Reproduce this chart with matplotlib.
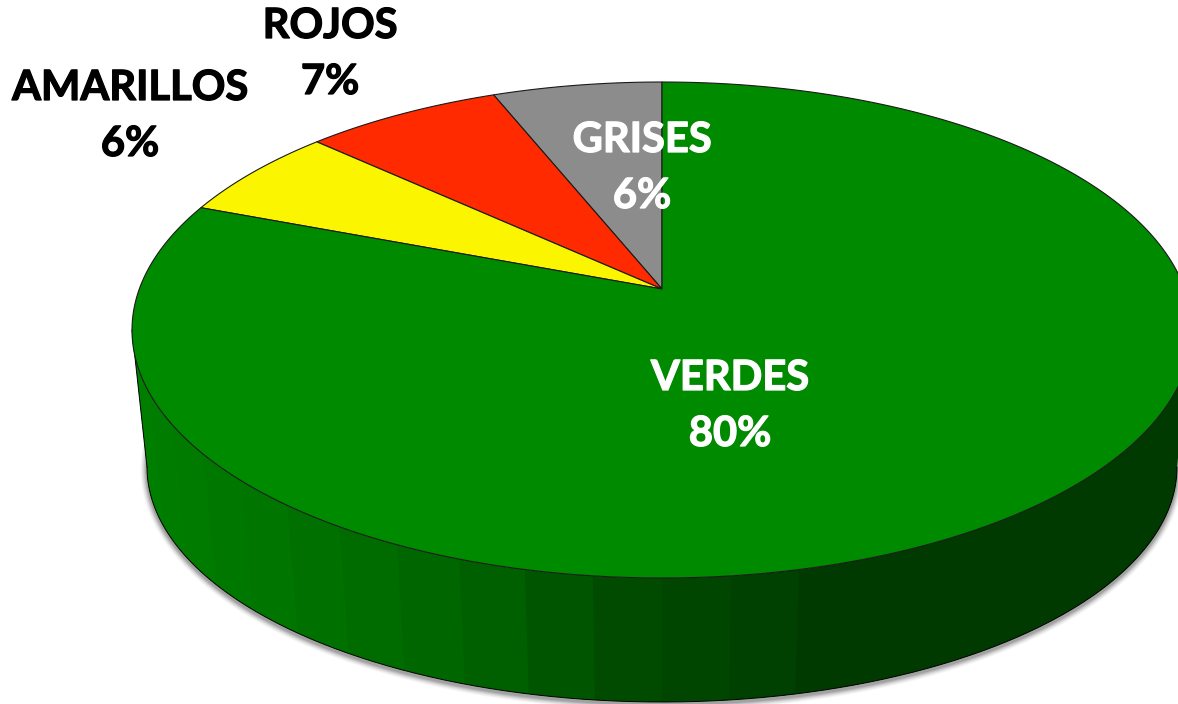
import numpy as np
import matplotlib
matplotlib.use("Agg")
import matplotlib.pyplot as plt
import matplotlib.patheffects as pe
from matplotlib.colors import to_rgb
from matplotlib.patches import Polygon

plt.rcParams['font.family'] = ['Lato', 'DejaVu Sans']

# datos (orden antihorario desde las 12)
categorias = ['GRISES', 'ROJOS', 'AMARILLOS', 'VERDES']
valores = [6, 7, 6, 80]
colores = ['#8c8c8c', '#ff2a00', '#fcf500', '#008a00']
color_texto = ['white', 'black', 'black', 'white']
pos_texto = [(642, 140), (330, 26), (130, 88), (730, 378)]

# geometria del disco en pixeles
CX, CY_APEX = 662, 289
K = 0.1653
A, B = 241.2, 522.7
TOP_E = (662, 330, 530, 248)
LOW_E = (662, 467, 515, 235)
ANCHO_FACETA = 7.5


def proyectar(theta):
    """Circulo unidad -> plano con perspectiva (theta en grados, 0 = derecha)."""
    t = np.radians(theta)
    u, v = np.cos(t), np.sin(t)
    w = 1 + K * v
    return CX + B * u / w, CY_APEX - A * v / w


def elipse(e, t):
    return e[0] + e[2] * np.cos(t), e[1] + e[3] * np.sin(t)


def color_pared(x):
    # luz desde la izquierda, plano oscuro a partir de x~830
    xs = [130, 300, 500, 620, 830]
    cs = [to_rgb(c) for c in ['#007f00', '#007200', '#005f00', '#004c00', '#003a00']]
    return [np.interp(x, xs, [c[i] for c in cs]) for i in range(3)]


fig = plt.figure(figsize=(11.78, 7.04), dpi=100)
ax = fig.add_axes([0, 0, 1, 1])
ax.set_xlim(0, 1178)
ax.set_ylim(704, 0)
ax.axis('off')

# sombra bajo el disco
ts = np.radians(np.linspace(-8, 190, 300))
sx, sy = elipse(LOW_E, ts)
for lw, a in zip([13, 11, 9, 7, 5, 3], [0.04, 0.06, 0.08, 0.11, 0.14, 0.18]):
    ax.plot(sx, sy + 2, color='#404040', lw=lw * 0.72, alpha=a, solid_capstyle='round', zorder=1)

# pared lateral por facetas, cada una solapa a la siguiente para no dejar costuras
bordes = np.radians(np.arange(0, 180 + ANCHO_FACETA, ANCHO_FACETA))
for t0, t1 in zip(bordes[:-1], bordes[1:]):
    t = np.linspace(t0, min(t1 + np.radians(1.5), np.pi), 8)
    xa, ya = elipse(TOP_E, t)
    xb, yb = elipse(LOW_E, t)
    pts = np.r_[np.c_[xa, ya], np.c_[xb, yb][::-1]]
    c = color_pared(elipse(TOP_E, np.array([(t0 + t1) / 2]))[0][0])
    ax.add_patch(Polygon(pts, closed=True, fc=c, ec='none', lw=0, zorder=2))

# contorno de la pared
t = np.radians(np.linspace(0, 180, 300))
xb, yb = elipse(LOW_E, t)
xa, ya = elipse(TOP_E, t)
ax.plot(xb, yb, color='black', lw=0.7, zorder=3)
ax.plot([xa[-1], xb[-1]], [ya[-1], yb[-1]], color='black', lw=0.7, zorder=3)

# cara superior
fracs = np.array(valores) / np.sum(valores)
inicio = 90.0
for frac, col in zip(fracs, colores):
    fin = inicio + frac * 360
    th = np.linspace(inicio, fin, max(int(frac * 720), 12))
    px, py = proyectar(th)
    pts = np.r_[[[CX, CY_APEX]], np.c_[px, py]]
    ax.add_patch(Polygon(pts, closed=True, fc=col, ec='#1a1a1a', lw=0.8, joinstyle='round', zorder=4))
    inicio = fin

# etiquetas
for nom, val, col, (x, y) in zip(categorias, valores, color_texto, pos_texto):
    for s, yy in ((nom, y), (f'{val}%', y + 56)):
        tx = ax.text(x, yy, s, color=col, fontsize=30, fontweight='bold', ha='center', va='center', zorder=6)
        tx.set_path_effects([pe.withStroke(linewidth=0.9, foreground=col)])

fig.savefig('out.png', dpi=100)
